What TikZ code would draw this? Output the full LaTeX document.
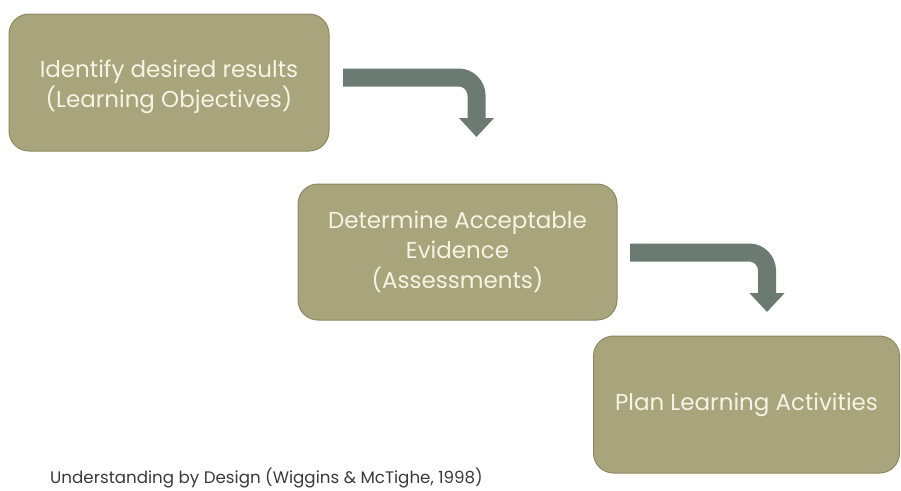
\documentclass[tikz,border=0pt]{standalone}
\usepackage{fontspec}
\setmainfont{Poppins}
\usetikzlibrary{arrows.meta}
\definecolor{boxfill}{HTML}{A8A57C}
\definecolor{boxline}{HTML}{8C895F}
\definecolor{arrowc}{HTML}{6B7B72}
\definecolor{boxtext}{HTML}{F6F3E4}
\definecolor{captext}{HTML}{3A3A3A}
\tikzset{
  stepbox/.style={draw=boxline, line width=1pt, fill=boxfill, rounded corners=20pt,
    inner sep=0pt, align=center, text=boxtext,
    font=\fontsize{23}{30}\selectfont},
  bentarrow/.style={draw=arrowc, line width=18pt, rounded corners=18pt,
    -{Triangle[width=34pt,length=19pt]}}
}
\begin{document}
\begin{tikzpicture}[x=1pt,y=-1pt]
\useasboundingbox (0,0) rectangle (901,490);
\node[stepbox, minimum width=320pt, minimum height=137pt] (b1) at (169,82.5)
  {\rule{0pt}{27pt}Identify desired results\\(Learning Objectives)};
\node[stepbox, minimum width=319pt, minimum height=136pt] (b2) at (457.5,252)
  {Determine Acceptable\\Evidence\\(Assessments)};
\node[stepbox, minimum width=306pt, minimum height=137pt] (b3) at (746.5,404.5)
  {Plan Learning Activities};
\coordinate (a1s) at (343,77.5);
\coordinate (a1c) at (476.5,77.5);
\coordinate (a1t) at (476.5,137);
\coordinate (a2s) at (630,252.5);
\coordinate (a2c) at (767,252.5);
\coordinate (a2t) at (767,312);
\draw[bentarrow] (a1s) -- (a1c) -- (a1t);
\draw[bentarrow] (a2s) -- (a2c) -- (a2t);
\node[anchor=base west, text=captext, font=\fontsize{16.7}{20}\selectfont, inner sep=0pt] (cap) at (50,483.5)
  {Understanding by Design (Wiggins \& McTighe, 1998)};
\end{tikzpicture}
\end{document}
